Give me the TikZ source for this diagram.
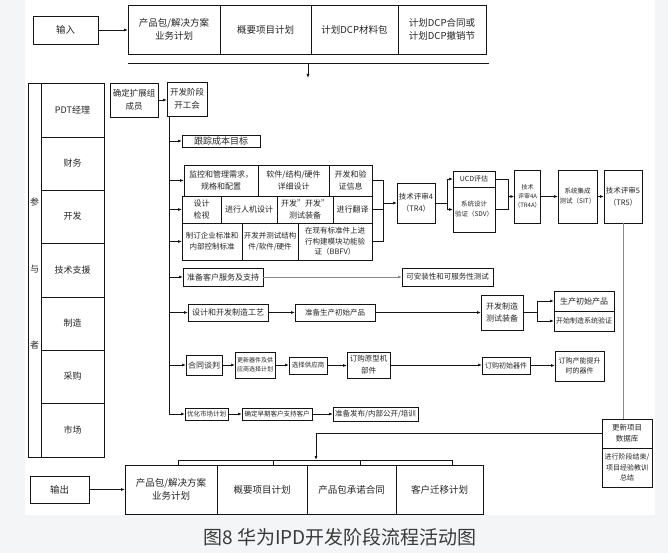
\documentclass[tikz,border=0pt]{standalone}
\usepackage{fontspec}
\setmainfont{Noto Sans CJK SC}
\usetikzlibrary{arrows.meta}
\definecolor{bgray}{HTML}{F4F5F6}
\definecolor{txtclr}{HTML}{262626}
\definecolor{lineclr}{HTML}{141414}
\definecolor{softline}{HTML}{8A8A8A}
\definecolor{capclr}{HTML}{3A3A3A}
\newcommand{\bx}[7][]{%
 \pgfmathsetmacro{\bxcx}{(#3+#5)/2}%
 \pgfmathsetmacro{\bxcy}{(#4+#6)/2}%
 \pgfmathsetmacro{\bxw}{#5-#3}%
 \pgfmathsetmacro{\bxh}{#6-#4}%
 \node[box,minimum width=\bxw pt,minimum height=\bxh pt,#1] (#2) at (\bxcx,\bxcy) {#7};%
}
\tikzset{
 box/.style={draw=lineclr,line width=0.9pt,inner sep=0pt,outer sep=0pt,align=center,text=txtclr,font=\fontsize{7.5}{11}\selectfont},
 big/.style={font=\fontsize{9.5}{13}\selectfont},
 ptlabel/.style={font=\fontsize{9}{11}\selectfont},
 fs85/.style={font=\fontsize{8.5}{13}\selectfont},
 fs8/.style={font=\fontsize{8}{12}\selectfont},
 fs75/.style={font=\fontsize{7.5}{12}\selectfont},
 fs7/.style={font=\fontsize{7}{10.5}\selectfont},
 fs65/.style={font=\fontsize{6.5}{10}\selectfont},
 fs6/.style={font=\fontsize{6}{9}\selectfont},
 wire/.style={draw=lineclr,line width=0.9pt},
 arr/.style={draw=lineclr,line width=0.9pt,-{Latex[length=4pt,width=3pt]}},
 softarr/.style={draw=softline,line width=1pt,-{Latex[length=4pt,width=3pt]}},
 softwire/.style={draw=softline,line width=0.9pt},
 sidetxt/.style={text=txtclr,font=\fontsize{9}{11}\selectfont,inner sep=0pt},
}
\begin{document}
\begin{tikzpicture}[x=1pt,y=-1pt]
\useasboundingbox (0,0) rectangle (668,553);
\fill[bgray] (0,0) rectangle (668,553);
\fill[white] (25,0) rectangle (655,515);

% ---- input row
\bx[big]{inp}{33}{16}{98}{44}{输入}
\bx[big]{in1}{128}{5}{220}{54}{产品包/解决方案\\业务计划}
\bx[big]{in2}{220}{5}{311}{54}{概要项目计划}
\bx[big]{in3}{311}{5}{398}{54}{计划DCP材料包}
\bx[big]{in4}{398}{5}{486}{54}{计划DCP合同或\\计划DCP撤销节}
\draw[arr] (inp.east) -- (inp.east -| in1.west);
\coordinate (hl) at (128,63);
\coordinate (hr) at (489,63);
\coordinate (ha) at (308,63);
\coordinate (hb) at (308,78);
\draw[wire] (hl) -- (hr);
\draw[arr] (ha) -- (hb);

% ---- participants
\bx{pside}{28}{83}{41}{457}{}
\bx[ptlabel]{p1}{41}{83}{104}{137}{PDT经理}
\bx[ptlabel]{p2}{41}{137}{104}{190}{财务}
\bx[ptlabel]{p3}{41}{190}{104}{243}{开发}
\bx[ptlabel]{p4}{41}{243}{104}{297}{技术支援}
\bx[ptlabel]{p5}{41}{297}{104}{350}{制造}
\bx[ptlabel]{p6}{41}{350}{104}{403}{采购}
\bx[ptlabel]{p7}{41}{403}{104}{457}{市场}
\node[sidetxt] (can) at (34.5,202) {参};
\node[sidetxt] (yu) at (34.5,269) {与};
\node[sidetxt] (zhe) at (34.5,345) {者};

% ---- start
\bx[fs85]{kz}{110}{83}{158}{117}{确定扩展组\\成员}
\bx[fs85]{kg}{167}{82}{207}{116}{开发阶段\\开工会}
\draw[arr] (kz.east) -- (kz.east -| kg.west);
\coordinate (spT) at (169,116);

% ---- branches
\bx[font=\fontsize{9}{11}\selectfont]{gz}{182}{135}{260}{147}{跟踪成本目标}
\bx[fs8]{r1a}{184}{165}{258}{196}{监控和管理需求，\\规格和配置}
\bx[fs8]{r1b}{258}{165}{329}{196}{软件/结构/硬件\\详细设计}
\bx[fs8]{r1c}{329}{165}{372}{196}{开发和验\\证信息}
\bx[fs8]{r2a}{182}{196}{221}{223}{设计\\检视}
\bx[fs8]{r2b}{221}{196}{277}{223}{进行人机设计}
\bx[fs8]{r2c}{277}{196}{333}{223}{开发”开发”\\测试装备}
\bx[fs8]{r2d}{333}{196}{372}{223}{进行翻译}
\bx{r3a}{182}{223}{242}{260}{制订企业标准和\\内部控制标准}
\bx{r3b}{242}{223}{298}{260}{开发并测试结构\\件/软件/硬件}
\bx[font=\fontsize{7.5}{10.5}\selectfont]{r3c}{298}{223}{372}{260}{在现有标准件上进\\行构建模块功能验\\证（BBFV）}

\draw[arr] (gz.west -| spT) -- (gz.west);
\draw[arr] (r1a.west -| spT) -- (r1a.west);
\draw[arr] (r2a.west -| spT) -- (r2a.west);
\draw[arr] (r3a.west -| spT) -- (r3a.west);

\bx[fs75]{tr4}{397}{183}{435}{223}{技术评审4\\（TR4）}
\coordinate (mg) at (383,203);
\draw[wire] (r1c.east) -| (mg);
\draw[wire] (r3c.east) -| (mg);
\draw[wire] (r2d.east) -- (r2d.east -| mg);
\draw[arr] (mg) -- (tr4.west);

\bx[fs7]{ucd}{453}{171}{495}{187}{UCD评估}
\bx[fs65]{sdv}{453}{187}{495}{232}{系统设计\\验证（SDV）}
\coordinate (sp1) at (447,203);
\draw[wire] (tr4.east) -- (sp1);
\draw[arr] (sp1) |- (ucd.west);
\draw[arr] (sp1) |- (sdv.west);

\bx[fs6]{tr4a}{517}{170}{538}{223}{技术\\评审4A\\（TR4A）}
\coordinate (mg2) at (508,196.5);
\draw[wire] (ucd.east) -| (mg2);
\draw[wire] (sdv.east) -| (mg2);
\draw[arr] (mg2) -- (tr4a.west);
\bx[fs65]{sit}{558}{170}{597}{223}{系统集成\\测试（SIT）}
\bx[fs75]{tr5}{604}{170}{642}{223}{技术评审5\\（TR5）}
\draw[arr] (tr4a.east) -- (sit.west);
\draw[arr] (sit.east) -- (tr5.west);

% customer service
\bx[fs8]{kf}{183}{268}{263}{286}{准备客户服务及支持}
\bx{az}{402}{268}{493}{286}{可安装性和可服务性测试}
\draw[arr] (kf.west -| spT) -- (kf.west);
\draw[softarr] (kf.east) -- (az.west);

% manufacturing
\bx[fs8]{sj}{188}{304}{268}{321}{设计和开发制造工艺}
\bx{sc}{295}{304}{375}{321}{准备生产初始产品}
\bx[fs8]{kzcs}{481}{295}{523}{330}{开发制造\\测试装备}
\bx[fs8]{sccp}{554}{291}{614}{311}{生产初始产品}
\bx[fs7]{kszz}{554}{311}{614}{331}{开始制造系统验证}
\draw[arr] (sj.west -| spT) -- (sj.west);
\draw[arr] (sj.east) -- (sc.west);
\draw[arr] (sc.east) -- (sc.east -| kzcs.west);
\coordinate (sp3) at (537,312.5);
\draw[wire] (kzcs.east) -- (sp3);
\draw[arr] (sp3) |- (sccp.west);
\draw[arr] (sp3) |- (kszz.west);

% purchasing
\bx[fs8]{ht}{186}{355}{222}{375}{合同谈判}
\bx[fs6]{gx}{235}{352}{275}{378}{更新器件及供\\应商选择计划}
\bx[fs65]{xz}{289}{357}{327}{374}{选择供应商}
\bx[fs75]{dg}{347}{352}{390}{378}{订购原型机\\部件}
\bx[fs7]{cs}{482}{357}{530}{374}{订购初始器件}
\bx[fs7]{cn}{555}{351}{604}{381}{订购产能提升\\时的器件}
\draw[arr] (ht.west -| spT) -- (ht.west);
\draw[arr] (ht.east) -- (ht.east -| gx.west);
\draw[arr] (gx.east) -- (gx.east -| xz.west);
\draw[arr] (xz.east) -- (xz.east -| dg.west);
\draw[arr] (dg.east) -- (dg.east -| cs.west);
\draw[arr] (cs.east) -- (cs.east -| cn.west);

% marketing
\bx[fs65]{yh}{185}{408}{228}{420}{优化市场计划}
\bx[fs65]{qd}{242}{408}{312}{420}{确定早期客户支持客户}
\bx{fb}{333}{407}{418}{421}{准备发布/内部公开/培训}
\draw[arr] (spT) |- (yh.west);
\draw[arr] (yh.east) -- (yh.east -| qd.west);
\draw[arr] (qd.east) -- (qd.east -| fb.west);

% closing
\bx{db}{602}{419}{652}{448}{更新项目\\数据库}
\bx[font=\fontsize{7}{10.5}\selectfont,line width=1pt]{zj}{602}{448}{652}{487}{进行阶段结束/\\项目经验教训\\总结}
\draw[softwire] (tr5.south) -- (tr5.south |- db.north);
\coordinate (L1) at (316,433.5);
\coordinate (bm) at (316,460);
\draw[wire] (db.west) -- (L1);
\draw[arr] (L1) -- (bm);

% ---- output row
\bx[big]{outp}{30}{476}{89}{503}{输出}
\bx[big]{out1}{125}{465}{217}{514}{产品包/解决方案\\业务计划}
\bx[big]{out2}{217}{465}{307}{514}{概要项目计划}
\bx[big]{out3}{307}{465}{396}{514}{产品包承诺合同}
\bx[big]{out4}{396}{465}{483}{514}{客户迁移计划}
\draw[arr] (outp.east) -- (outp.east -| out1.west);
\coordinate (bA) at (178,460);
\coordinate (bB) at (273,460);
\coordinate (bC) at (360,460);
\coordinate (bD) at (452,460);
\draw[wire] (bA) -- (bD);
\draw[wire] (bA) -- (bA |- out1.north);
\draw[wire] (bB) -- (bB |- out2.north);
\draw[wire] (bC) -- (bC |- out3.north);
\draw[wire] (bD) -- (bD |- out4.north);

% caption
\node[font=\fontsize{19}{22}\selectfont,text=capclr,inner sep=0pt] (cap) at (340,537) {图8 华为IPD开发阶段流程活动图};
\end{tikzpicture}
\end{document}
